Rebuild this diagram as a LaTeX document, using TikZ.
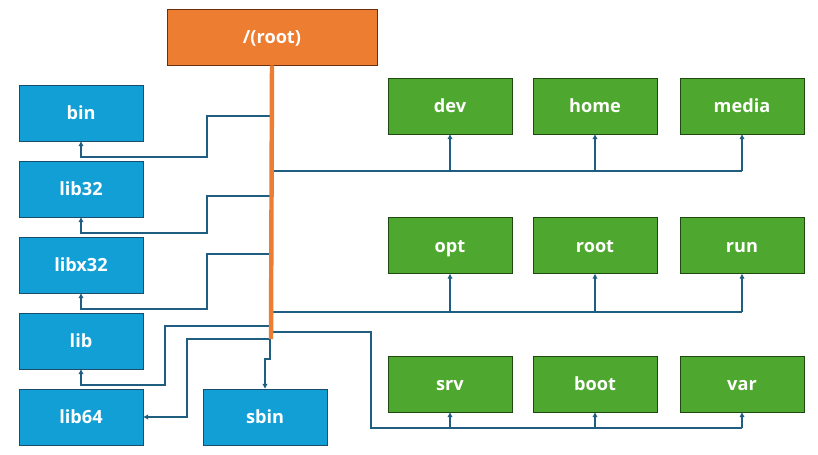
\documentclass[tikz,border=0pt]{standalone}
\usepackage{fontspec}
\setmainfont{Open Sans}
\usepackage{tikz}
\usetikzlibrary{arrows.meta,calc}
\definecolor{froot}{HTML}{ED7D31}
\definecolor{froote}{HTML}{6B2E0E}
\definecolor{fblue}{HTML}{129FD6}
\definecolor{fbluee}{HTML}{1B4D6B}
\definecolor{fgreen}{HTML}{4EA72E}
\definecolor{fgreene}{HTML}{1E4A12}
\definecolor{fline}{HTML}{1F5E80}
\tikzset{
  >={Triangle[length=4pt,width=4pt]},
  fdir/.style={draw, line width=0.8pt, minimum width=3.72cm, minimum height=1.68cm,
               inner sep=0pt, text=white, text height=11.5pt, text depth=0pt,
               font=\fontsize{15.5}{18}\selectfont\bfseries},
  fsys/.style={fdir, fill=fblue, draw=fbluee},
  fuser/.style={fdir, fill=fgreen, draw=fgreene},
  frootbox/.style={fdir, fill=froot, draw=froote, minimum width=6.3cm},
  fconn/.style={fline, line width=0.9pt},
  ftrunk/.style={draw=froot, line width=3.8pt},
}

\begin{document}
\begin{tikzpicture}[x=0.03cm,y=-0.03cm]
  \useasboundingbox (0,0) rectangle (818,455);

  % racine
  \node[frootbox] (root) at (272,37) {/(root)};

  % colonne de gauche
  \node[fsys] (bin)    at (81,113) {bin};
  \node[fsys] (lib32)  at (81,189) {lib32};
  \node[fsys] (libx32) at (81,265) {libx32};
  \node[fsys] (lib)    at (81,341) {lib};
  \node[fsys] (lib64)  at (81,417) {lib64};
  \node[fsys] (sbin)   at (265,417) {sbin};

  % trois rangées à droite
  \node[fuser] (dev)   at (450,106) {dev};
  \node[fuser] (home)  at (595,106) {home};
  \node[fuser] (media) at (742,106) {media};
  \node[fuser] (opt)   at (450,245.5) {opt};
  \node[fuser] (sroot) at (595,245.5) {root};
  \node[fuser] (run)   at (742,245.5) {run};
  \node[fuser] (srv)   at (450,384) {srv};
  \node[fuser] (boot)  at (595,384) {boot};
  \node[fuser] (var)   at (742,384) {var};

  % points de départ sur le tronc
  \coordinate (t1) at (271,116);
  \coordinate (t2) at (271,196);
  \coordinate (t3) at (271,254);
  \coordinate (t4) at (271,326);
  \coordinate (t5) at (271,339);
  \coordinate (t6) at (270,332);
  \coordinate (g1) at (271,171);
  \coordinate (g2) at (271,312);
  \coordinate (r3) at (371,428);
  \coordinate (tend) at (271,339);

  % branches vers la gauche
  \draw[fconn,->] (t1) -| (207,157) -| (bin.south);
  \draw[fconn,->] (t2) -| (207,233) -| (lib32.south);
  \draw[fconn,->] (t3) -| (207,309) -| (libx32.south);
  \draw[fconn,->] (t4) -| (165,385) -| (lib.south);
  \draw[fconn,->] (t5) -| (187,417) -- (lib64.east);
  \draw[fconn,->] (t6) |- (265,359) -- (sbin.north);

  % rangée du haut
  \draw[fconn] (g1) -- (media.south |- g1);
  \foreach \n in {dev,home,media}
    \draw[fconn,->] (\n.south |- g1) -- (\n.south);

  % rangée du milieu
  \draw[fconn] (g2) -- (run.south |- g2);
  \foreach \n in {opt,sroot,run}
    \draw[fconn,->] (\n.south |- g2) -- (\n.south);

  % rangée du bas
  \draw[fconn] (t6) -| (r3) -- (var.south |- r3);
  \foreach \n in {srv,boot,var}
    \draw[fconn,->] (\n.south |- r3) -- (\n.south);

  % tronc
  \draw[ftrunk] (root.south) -- (tend);

\end{tikzpicture}
\end{document}
